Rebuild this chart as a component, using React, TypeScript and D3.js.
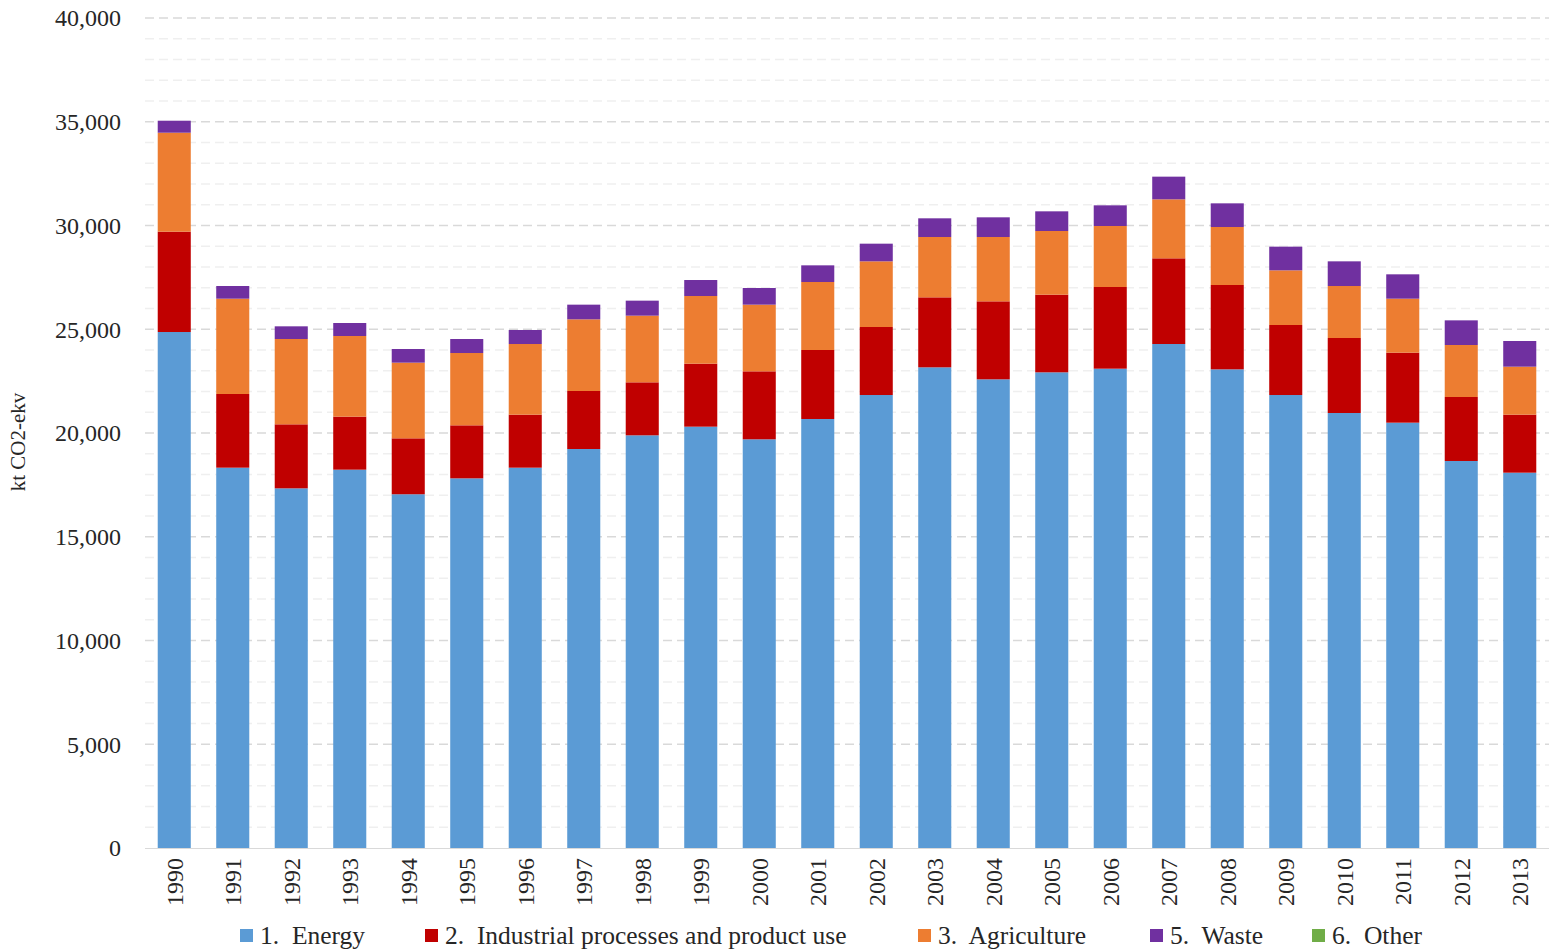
import React from "react";
import * as d3 from "d3";

const years = ["1990","1991","1992","1993","1994","1995","1996","1997","1998","1999","2000","2001","2002","2003","2004","2005","2006","2007","2008","2009","2010","2011","2012","2013"];
const energy = [24867,18329,17333,18233,17048,17815,18329,19229,19888,20305,19696,20675,21831,23165,22587,22924,23100,24289,23068,21831,20964,20498,18651,18088];
const industry = [4835,3551,3085,2555,2695,2555,2555,2795,2554,3036,3276,3325,3277,3373,3758,3743,3936,4129,4065,3374,3614,3374,3084,2796];
const agriculture = [4770,4593,4112,3887,3647,3485,3405,3454,3213,3261,3213,3277,3165,2908,3101,3068,2940,2843,2795,2634,2506,2601,2506,2312];
const waste = [578,611,611,626,658,675,675,707,723,771,803,803,851,900,948,948,996,1093,1140,1141,1189,1174,1188,1238];
const other = [0,0,0,0,0,0,0,0,0,0,0,0,0,0,0,0,0,0,0,0,0,0,0,0];

const seriesNames = ["1.  Energy", "2.  Industrial processes and product use", "3.  Agriculture", "5.  Waste", "6.  Other"];
const seriesKeys = ["energy", "industry", "agriculture", "waste", "other"];
const colors = ["#5b9bd5", "#c00000", "#ed7d31", "#7030a0", "#70ad47"];
const yTicks = [0, 5000, 10000, 15000, 20000, 25000, 30000, 35000, 40000];
const legendX = [240, 425, 918, 1150, 1312];

const W = 1551, H = 952;
const FONT = "'Liberation Serif', 'DejaVu Serif', serif";

export default function App() {
  const rows = years.map((y, i) => ({
    year: y,
    energy: energy[i],
    industry: industry[i],
    agriculture: agriculture[i],
    waste: waste[i],
    other: other[i],
  }));
  const stacked = d3.stack<any>().keys(seriesKeys)(rows);

  const x = d3.scaleBand().domain(years).range([145, 1549]).paddingInner(0.435).paddingOuter(0.2175);
  const y = d3.scaleLinear().domain([0, 40000]).range([848, 18]);
  const minor = d3.range(1000, 40001, 1000).filter((v) => v % 5000 !== 0);
  const major = yTicks.filter((v) => v > 0);
  const fmt = d3.format(",");

  return (
    <svg width={W} height={H} style={{ position: "absolute", left: 0, top: 0, background: "#fff" }} fontFamily={FONT}>
      {minor.map((v) => (
        <line key={"m" + v} x1={145} x2={1549} y1={y(v)} y2={y(v)} stroke="#efefef" strokeWidth={1.5} strokeDasharray="9,5" />
      ))}
      {major.map((v) => (
        <line key={"M" + v} x1={145} x2={1549} y1={y(v)} y2={y(v)} stroke="#d9d9d9" strokeWidth={1.5} strokeDasharray="9,5" />
      ))}
      {stacked.map((s, si) => (
        <g key={s.key} fill={colors[si]}>
          {s.map((d, i) => {
            const h = y(d[0]) - y(d[1]);
            if (h <= 0) return null;
            return <rect key={i} x={x(years[i])} y={y(d[1])} width={x.bandwidth()} height={h} />;
          })}
        </g>
      ))}
      <line x1={145} x2={1549} y1={848.5} y2={848.5} stroke="#d9d9d9" strokeWidth={1.2} />
      {yTicks.map((v) => (
        <text key={v} x={121} y={y(v)} dy="0.35em" textAnchor="end" fontSize={24} fill="#262626">{fmt(v)}</text>
      ))}
      {years.map((yr) => (
        <text key={yr} transform={`translate(${(x(yr) as number) + x.bandwidth() / 2},858) rotate(-90)`} dy="0.35em" textAnchor="end" fontSize={24} fill="#262626">{yr}</text>
      ))}
      <text transform="translate(18,442) rotate(-90)" dy="0.35em" textAnchor="middle" fontSize={21} fill="#262626">kt CO2-ekv</text>
      {seriesNames.map((n, i) => (
        <g key={n}>
          <rect x={legendX[i]} y={929} width={13} height={13} fill={colors[i]} />
          <text x={legendX[i] + 20} y={935.5} dy="0.35em" fontSize={25.5} fill="#262626" style={{ whiteSpace: "pre" }}>{n}</text>
        </g>
      ))}
    </svg>
  );
}
